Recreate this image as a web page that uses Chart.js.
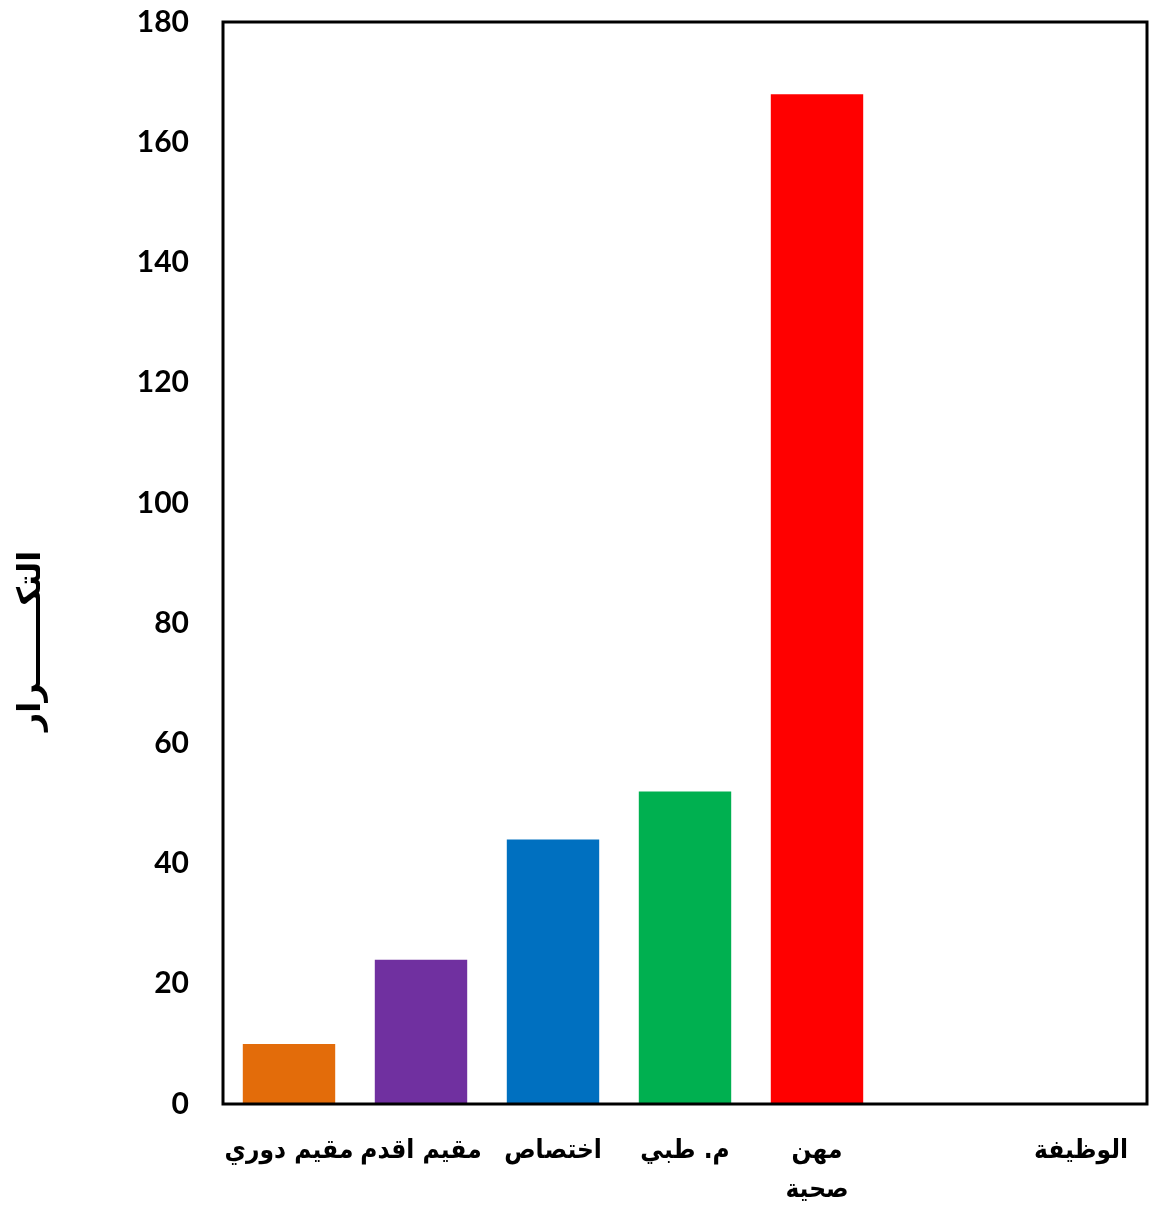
<!DOCTYPE html>
<html>
<head>
<meta charset="utf-8">
<script src="https://cdn.jsdelivr.net/npm/chart.js@4"></script>
<style>
  html, body { margin: 0; padding: 0; background: #fff; }
  #wrap { width: 1149px; height: 1212px; }
</style>
</head>
<body>
<div id="wrap"><canvas id="jobChart" width="1149" height="1212"></canvas></div>
<script>
const categories = [
  "مقيم دوري",
  "مقيم اقدم",
  "اختصاص",
  "م. طبي",
  ["مهن", "صحية"],
  "",
  "الوظيفة",
];
const frequencies = [10, 24, 44, 52, 168, null, null];
const barColors = ["#E36C0A", "#7030A0", "#0070C0", "#00B050", "#FF0000", "#FFFFFF", "#FFFFFF"];
const yTicks = { min: 0, max: 180, step: 20 };
const yTitle = "التكـــــــرار" + "\u00A0".repeat(14);

// box round the plot area
const frameBox = {
  id: "frameBox",
  afterDraw(chart) {
    const { ctx, chartArea } = chart;
    ctx.save();
    ctx.strokeStyle = "#000";
    ctx.lineWidth = 3;
    ctx.strokeRect(chartArea.left, chartArea.top, chartArea.right - chartArea.left, chartArea.bottom - chartArea.top);
    ctx.restore();
  },
};

new Chart(document.getElementById("jobChart").getContext("2d"), {
  type: "bar",
  data: {
    labels: categories,
    datasets: [
      {
        data: frequencies,
        backgroundColor: barColors,
        borderWidth: 0,
        barPercentage: 0.7,
        categoryPercentage: 1,
      },
    ],
  },
  options: {
    responsive: false,
    animation: false,
    layout: { padding: { top: 22, right: 2, left: 0, bottom: 0 } },
    plugins: {
      legend: { display: false },
      tooltip: { enabled: false },
    },
    scales: {
      x: {
        grid: { display: false, drawTicks: false },
        border: { display: false },
        ticks: {
          color: "#000",
          font: { family: "DejaVu Sans Condensed", weight: "bold", size: 26, lineHeight: 1.5 },
          padding: 28,
          maxRotation: 0,
          minRotation: 0,
          autoSkip: false,
        },
        afterFit(scale) {
          scale.height = 1212 - 1104;
          scale.paddingLeft = 0;
          scale.paddingRight = 0;
        },
      },
      y: {
        min: yTicks.min,
        max: yTicks.max,
        grid: { display: false, drawTicks: false },
        border: { display: false },
        ticks: {
          stepSize: yTicks.step,
          color: "#000",
          font: { family: "Lato", weight: "bold", size: 30 },
          padding: 34,
        },
        title: {
          display: true,
          text: yTitle,
          color: "#000",
          font: { family: "DejaVu Sans", weight: "bold", size: 32 },
          padding: { top: 12, bottom: 0 },
        },
        afterFit(scale) {
          scale.width = 223;
          scale.paddingTop = 0;
          scale.paddingBottom = 0;
        },
      },
    },
  },
  plugins: [frameBox],
});
</script>
</body>
</html>
